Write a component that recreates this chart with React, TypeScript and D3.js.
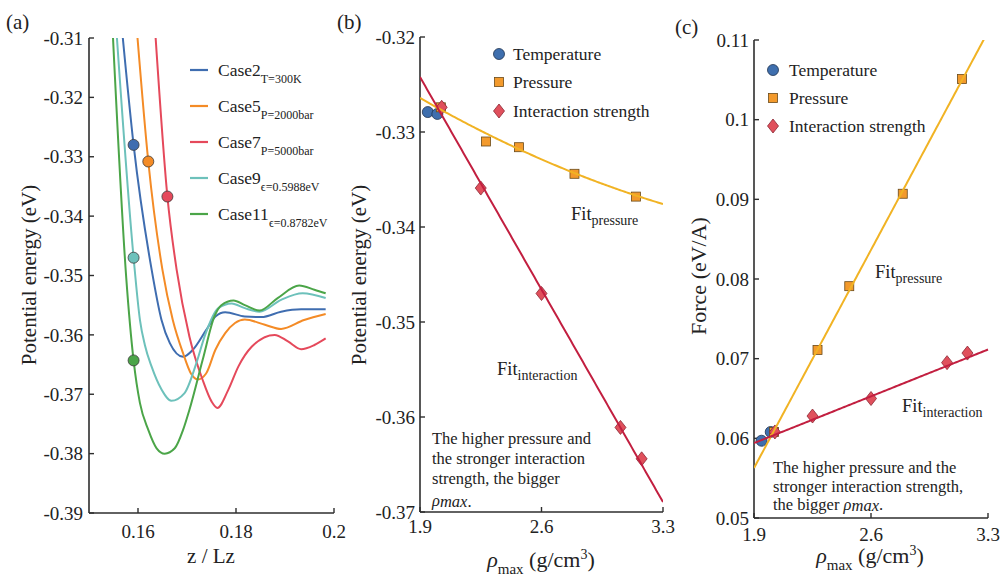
import React from "react";
import * as d3 from "d3";

const AXIS = "#2e2e2e";

// ---------- Panel (a) data ----------
const caseNames = ["Case2", "Case5", "Case7", "Case9", "Case11"];
const caseSubs = ["T=300K", "P=2000bar", "P=5000bar", "\u03f5=0.5988eV", "\u03f5=0.8782eV"];
const caseColors = ["#3f6db0", "#f48b26", "#e5495b", "#6dc1bb", "#4ba548"];

const case2: [number, number][] = [
  [0.1569, -0.3100], [0.1591, -0.3280], [0.1628, -0.3491], [0.1648, -0.3575], [0.1665, -0.3614],
  [0.1692, -0.3637], [0.1712, -0.3625], [0.1739, -0.3592], [0.1758, -0.3569], [0.1778, -0.3562],
  [0.1818, -0.3569], [0.1852, -0.3570], [0.1892, -0.3561], [0.1933, -0.3557], [0.1983, -0.3557],
];
const case5: [number, number][] = [
  [0.1599, -0.3100], [0.1621, -0.3308], [0.1650, -0.3491], [0.1671, -0.3575], [0.1692, -0.3631],
  [0.1708, -0.3665], [0.1722, -0.3675], [0.1739, -0.3665], [0.1758, -0.3625], [0.1778, -0.3597],
  [0.1798, -0.3580], [0.1818, -0.3574], [0.1859, -0.3583], [0.1892, -0.3590], [0.1939, -0.3575],
  [0.1983, -0.3565],
];
const case7: [number, number][] = [
  [0.1636, -0.3100], [0.1660, -0.3367], [0.1679, -0.3491], [0.1705, -0.3603], [0.1732, -0.3676],
  [0.1750, -0.3712], [0.1762, -0.3723], [0.1784, -0.3693], [0.1805, -0.3653], [0.1832, -0.3620],
  [0.1879, -0.3600], [0.1906, -0.3611], [0.1933, -0.3624], [0.1960, -0.3617], [0.1983, -0.3606],
];
const case9: [number, number][] = [
  [0.1557, -0.3100], [0.1591, -0.3470], [0.1604, -0.3575], [0.1614, -0.3617], [0.1628, -0.3654],
  [0.1648, -0.3692], [0.1668, -0.3711], [0.1695, -0.3698], [0.1719, -0.3648], [0.1737, -0.3600],
  [0.1764, -0.3555], [0.1791, -0.3547], [0.1818, -0.3555], [0.1848, -0.3561], [0.1892, -0.3541],
  [0.1936, -0.3530], [0.1983, -0.3538],
];
const case11: [number, number][] = [
  [0.1549, -0.3100], [0.1576, -0.3504], [0.1591, -0.3643], [0.1604, -0.3715], [0.1621, -0.3760],
  [0.1638, -0.3791], [0.16545, -0.3800], [0.1675, -0.3791], [0.1692, -0.3760], [0.1705, -0.3726],
  [0.1732, -0.3642], [0.1756, -0.3569], [0.1770, -0.3550], [0.1795, -0.3542], [0.1818, -0.3550],
  [0.1848, -0.3559], [0.1885, -0.3538], [0.1929, -0.3517], [0.1960, -0.3524], [0.1983, -0.3530],
];
const caseCurves = [case2, case5, case7, case9, case11];
const caseDotZ = [0.1591, 0.1621, 0.1660, 0.1591, 0.1591];
const caseDotV = [-0.3280, -0.3308, -0.3367, -0.3470, -0.3643];
const aYTicks = [-0.31, -0.32, -0.33, -0.34, -0.35, -0.36, -0.37, -0.38, -0.39];
const aYLabels = ["-0.31", "-0.32", "-0.33", "-0.34", "-0.35", "-0.36", "-0.37", "-0.38", "-0.39"];
const aXTicks = [0.16, 0.18, 0.2];
const aXLabels = ["0.16", "0.18", "0.2"];

// ---------- Panel (b)/(c) data ----------
const rhoTemperature = [1.945, 2.0];
const rhoPressure = [2.02, 2.28, 2.47, 2.79, 3.144];
const rhoInteraction = [2.025, 2.25, 2.6, 3.055, 3.177];

const peTemperature = [-0.3279, -0.3281];
const pePressure = [-0.3274, -0.3310, -0.3316, -0.3344, -0.3368];
const peInteraction = [-0.3274, -0.3359, -0.3470, -0.3611, -0.3644];
const fitPressurePE = [-0.32642, -0.010478, 0.00179]; // quadratic in (rho - 1.9)
const fitInteractionPE = [-0.32421, -0.031957]; // linear in (rho - 1.9)

const forceTemperature = [0.0597, 0.0608];
const forcePressure = [0.0608, 0.0711, 0.0791, 0.0907, 0.1051];
const forceInteraction = [0.0608, 0.0628, 0.0650, 0.0695, 0.0707];
const fitPressureF = [0.05627, 0.03912];
const fitInteractionF = [0.0594, 0.00839];

const bYTicks = [-0.32, -0.33, -0.34, -0.35, -0.36, -0.37];
const bYLabels = ["-0.32", "-0.33", "-0.34", "-0.35", "-0.36", "-0.37"];
const cYTicks = [0.05, 0.06, 0.07, 0.08, 0.09, 0.1, 0.11];
const cYLabels = ["0.05", "0.06", "0.07", "0.08", "0.09", "0.1", "0.11"];
const rhoTicks = [1.9, 2.6, 3.3];
const rhoLabels = ["1.9", "2.6", "3.3"];
const legendNames = ["Temperature", "Pressure", "Interaction strength"];

const C_TEMP = "#3f6fae";
const C_PRES = "#f39a2c";
const C_INT = "#e0505c";
const C_FITP = "#f1b324";
const C_FITI = "#c21f40";

// ---------- scales ----------
const ax = d3.scaleLinear().domain([0.15, 0.2]).range([89, 334]);
const ay = d3.scaleLinear().domain([-0.31, -0.39]).range([38, 513]);
const bx = d3.scaleLinear().domain([1.9, 3.3]).range([420, 663]);
const by = d3.scaleLinear().domain([-0.32, -0.37]).range([37, 512]);
const cx = d3.scaleLinear().domain([1.9, 3.3]).range([754, 988]);
const cy = d3.scaleLinear().domain([0.05, 0.11]).range([518, 40]);

const fitXs = d3.range(1.9, 3.3001, 0.01);

function Marker({ kind, x, y }: { kind: number; x: number; y: number }) {
  if (kind === 0) return <circle cx={x} cy={y} r={5.5} fill={C_TEMP} stroke="#1f3350" strokeWidth={0.8} />;
  if (kind === 1)
    return <rect x={x - 4.5} y={y - 4.5} width={9} height={9} fill={C_PRES} stroke="#6a4a1a" strokeWidth={0.8} />;
  return (
    <path
      d={`M${x},${y - 7}L${x + 5.5},${y}L${x},${y + 7}L${x - 5.5},${y}Z`}
      fill={C_INT}
      stroke="#8a2733"
      strokeWidth={0.8}
    />
  );
}

function Axes({
  xs, ys, xTicks, xLabels, yTicks, yLabels, xLabelDy, yLabelDx,
}: any) {
  const [x0, x1] = xs.range();
  const [y0, y1] = ys.range();
  const yb = Math.max(y0, y1);
  const yt = Math.min(y0, y1);
  return (
    <g>
      <line x1={x0} y1={yt} x2={x0} y2={yb} stroke={AXIS} strokeWidth={1.6} />
      <line x1={x0} y1={yb} x2={x1} y2={yb} stroke={AXIS} strokeWidth={1.6} />
      {yTicks.map((t: number, i: number) => (
        <g key={"y" + i}>
          <line x1={x0} x2={x0 + 5} y1={ys(t)} y2={ys(t)} stroke={AXIS} strokeWidth={1.4} />
          <text x={x0 - yLabelDx} y={ys(t)} dy="0.35em" textAnchor="end" fontSize={19}>
            {yLabels[i]}
          </text>
        </g>
      ))}
      {xTicks.map((t: number, i: number) => (
        <g key={"x" + i}>
          <line x1={xs(t)} x2={xs(t)} y1={yb} y2={yb - 5} stroke={AXIS} strokeWidth={1.4} />
          <text x={xs(t)} y={yb + xLabelDy} textAnchor="middle" fontSize={19}>
            {xLabels[i]}
          </text>
        </g>
      ))}
    </g>
  );
}

function RhoLabel({ x, y }: { x: number; y: number }) {
  return (
    <text x={x} y={y} textAnchor="middle" fontSize={22}>
      <tspan fontStyle="italic">ρ</tspan>
      <tspan fontSize={15} dy={7}>max</tspan>
      <tspan dy={-7}> (g/cm</tspan>
      <tspan fontSize={14} dy={-8}>3</tspan>
      <tspan dy={8}>)</tspan>
    </text>
  );
}

function FitLabel({ x, y, sub }: { x: number; y: number; sub: string }) {
  return (
    <text x={x} y={y} fontSize={18.5}>
      Fit<tspan fontSize={14} dy={5}>{sub}</tspan>
    </text>
  );
}

export default function App() {
  const curveGen = d3
    .line<[number, number]>()
    .x((d) => ax(d[0]))
    .y((d) => ay(d[1]))
    .curve(d3.curveMonotoneX);

  const fitPB = d3
    .line<number>()
    .x((r) => bx(r))
    .y((r) => {
      const d = r - 1.9;
      return by(fitPressurePE[0] + fitPressurePE[1] * d + fitPressurePE[2] * d * d);
    });
  const fitIB = d3
    .line<number>()
    .x((r) => bx(r))
    .y((r) => by(fitInteractionPE[0] + fitInteractionPE[1] * (r - 1.9)));
  const fitPC = d3
    .line<number>()
    .x((r) => cx(r))
    .y((r) => cy(fitPressureF[0] + fitPressureF[1] * (r - 1.9)));
  const fitIC = d3
    .line<number>()
    .x((r) => cx(r))
    .y((r) => cy(fitInteractionF[0] + fitInteractionF[1] * (r - 1.9)));

  return (
    <svg width={1001} height={585}
      style={{ position: "absolute", left: 0, top: 0, background: "#fff", fontFamily: "\"Liberation Serif\"" }}
      fill="#222">
      <style>{`text { font-family: "Liberation Serif"; }`}</style>
      <defs>
        <clipPath id="clipA"><rect x={89} y={38} width={245} height={475} /></clipPath>
        <clipPath id="clipB"><rect x={420} y={37} width={243} height={475} /></clipPath>
        <clipPath id="clipC"><rect x={754} y={40} width={236} height={478} /></clipPath>
      </defs>

      {/* ---------------- Panel (a) ---------------- */}
      <text x={6} y={29} fontSize={21}>(a)</text>
      <Axes xs={ax} ys={ay} xTicks={aXTicks} xLabels={aXLabels} yTicks={aYTicks} yLabels={aYLabels}
        xLabelDy={25} yLabelDx={6} />
      <g clipPath="url(#clipA)" fill="none">
        {caseCurves.map((c, i) => (
          <path key={i} d={curveGen(c) || ""} stroke={caseColors[i]} strokeWidth={2} />
        ))}
      </g>
      {caseDotZ.map((z, i) => (
        <circle key={i} cx={ax(z)} cy={ay(caseDotV[i])} r={5.5} fill={caseColors[i]} stroke="#3a3a3a" strokeWidth={0.8} />
      ))}
      {caseNames.map((n, i) => {
        const ly = [70, 106, 142, 178, 214][i];
        return (
          <g key={n}>
            <line x1={190} x2={208} y1={ly} y2={ly} stroke={caseColors[i]} strokeWidth={2.2} />
            <text x={218} y={ly + 6} fontSize={17.5}>
              {n}
              <tspan fontSize={12} dy={7}>{caseSubs[i]}</tspan>
            </text>
          </g>
        );
      })}
      <text transform="translate(36,275) rotate(-90)" textAnchor="middle" fontSize={21}>
        Potential energy (eV)
      </text>
      <text x={211} y={563} textAnchor="middle" fontSize={21}>z / Lz</text>

      {/* ---------------- Panel (b) ---------------- */}
      <text x={337} y={29} fontSize={21}>(b)</text>
      <Axes xs={bx} ys={by} xTicks={rhoTicks} xLabels={rhoLabels} yTicks={bYTicks} yLabels={bYLabels}
        xLabelDy={21} yLabelDx={5} />
      <g clipPath="url(#clipB)">
        {rhoTemperature.map((r, i) => <Marker key={"t" + i} kind={0} x={bx(r)} y={by(peTemperature[i])} />)}
        {rhoPressure.map((r, i) => <Marker key={"p" + i} kind={1} x={bx(r)} y={by(pePressure[i])} />)}
        {rhoInteraction.map((r, i) => <Marker key={"i" + i} kind={2} x={bx(r)} y={by(peInteraction[i])} />)}
        <path d={fitPB(fitXs) || ""} fill="none" stroke={C_FITP} strokeWidth={2} />
        <path d={fitIB(fitXs) || ""} fill="none" stroke={C_FITI} strokeWidth={2} />
      </g>
      {legendNames.map((n, i) => (
        <g key={n}>
          <Marker kind={i} x={499} y={[54, 82, 111][i]} />
          <text x={513} y={[54, 82, 111][i]} dy="0.35em" fontSize={17.5}>{n}</text>
        </g>
      ))}
      <FitLabel x={571} y={220} sub="pressure" />
      <FitLabel x={497} y={375} sub="interaction" />
      <g fontSize={16.5}>
        <text x={432} y={444}>The higher pressure and</text>
        <text x={432} y={464}>the stronger interaction</text>
        <text x={432} y={484}>strength, the bigger</text>
        <text x={432} y={506} fontStyle="italic">ρ<tspan dy={1}>max</tspan><tspan fontStyle="normal">.</tspan></text>
      </g>
      <text transform="translate(366,275) rotate(-90)" textAnchor="middle" fontSize={21}>
        Potential energy (eV)
      </text>
      <RhoLabel x={541} y={567} />

      {/* ---------------- Panel (c) ---------------- */}
      <text x={675} y={34} fontSize={21}>(c)</text>
      <Axes xs={cx} ys={cy} xTicks={rhoTicks} xLabels={rhoLabels} yTicks={cYTicks} yLabels={cYLabels}
        xLabelDy={23} yLabelDx={5} />
      <g clipPath="url(#clipC)">
        {rhoTemperature.map((r, i) => <Marker key={"t" + i} kind={0} x={cx(r)} y={cy(forceTemperature[i])} />)}
        {rhoPressure.map((r, i) => <Marker key={"p" + i} kind={1} x={cx(r)} y={cy(forcePressure[i])} />)}
        {rhoInteraction.map((r, i) => <Marker key={"i" + i} kind={2} x={cx(r)} y={cy(forceInteraction[i])} />)}
        <path d={fitPC(fitXs) || ""} fill="none" stroke={C_FITP} strokeWidth={2} />
        <path d={fitIC(fitXs) || ""} fill="none" stroke={C_FITI} strokeWidth={2} />
      </g>
      {legendNames.map((n, i) => (
        <g key={n}>
          <Marker kind={i} x={773} y={[70, 98, 126][i]} />
          <text x={789} y={[70, 98, 126][i]} dy="0.35em" fontSize={17.5}>{n}</text>
        </g>
      ))}
      <FitLabel x={875} y={278} sub="pressure" />
      <FitLabel x={902} y={412} sub="interaction" />
      <g fontSize={16.5}>
        <text x={773} y={473}>The higher pressure and the</text>
        <text x={773} y={492}>stronger interaction strength,</text>
        <text x={773} y={510}>
          the bigger <tspan fontStyle="italic">ρ</tspan><tspan fontStyle="italic" dy={1}>max</tspan><tspan dy={-1}>.</tspan>
        </text>
      </g>
      <text transform="translate(706,276) rotate(-90)" textAnchor="middle" fontSize={22}>
        Force (eV/A)
      </text>
      <RhoLabel x={870} y={563} />
    </svg>
  );
}
